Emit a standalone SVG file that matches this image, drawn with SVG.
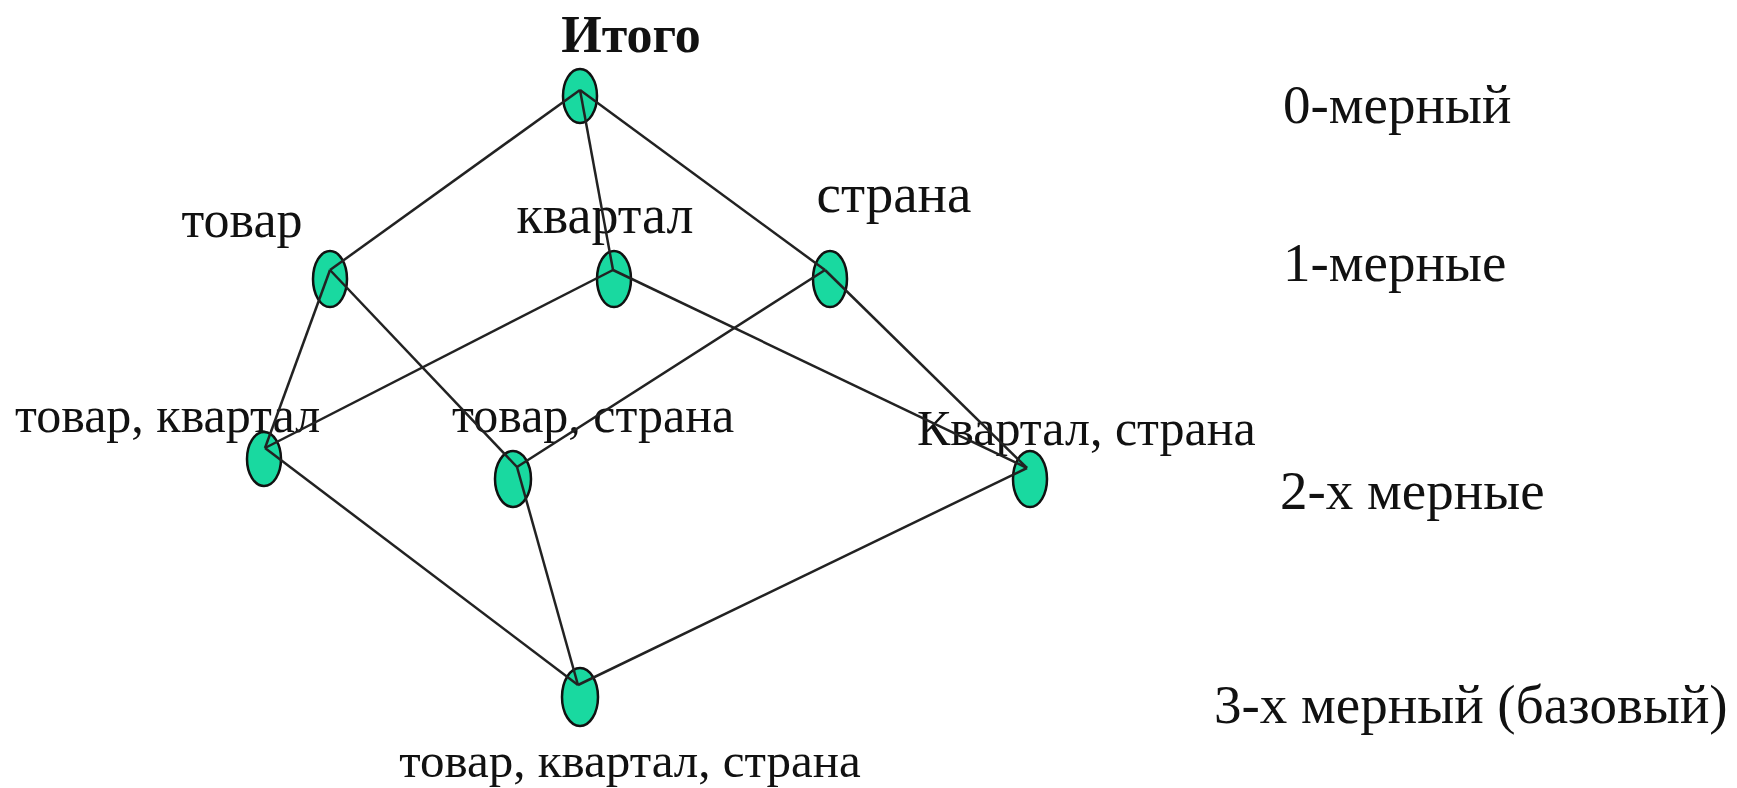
<svg xmlns="http://www.w3.org/2000/svg" width="1737" height="788" viewBox="0 0 1737 788">
<style>
.n{fill:#19D9A0;stroke:#111;stroke-width:2.5}
.e{stroke:#222;stroke-width:2.5;fill:none}
.t{font-family:"Liberation Serif","Times New Roman",serif;font-size:50px;fill:#111}
.r{font-family:"Liberation Serif","Times New Roman",serif;font-size:55px;fill:#111}
.b{font-family:"Liberation Serif","Times New Roman",serif;font-size:52px;font-weight:bold;fill:#111}
</style>
<rect width="1737" height="788" fill="#fff"/>
<g id="node-total"><ellipse class="n" cx="580" cy="96" rx="17" ry="27"/><text class="b" x="631" y="52" text-anchor="middle">Итого</text></g>
<g id="node-tovar"><ellipse class="n" cx="330" cy="279" rx="17" ry="28"/><text class="t" x="242" y="237" text-anchor="middle" style="font-size:52px">товар</text></g>
<g id="node-kvartal"><ellipse class="n" cx="614" cy="279" rx="17" ry="28"/><text class="t" x="605" y="233" text-anchor="middle" style="font-size:54px">квартал</text></g>
<g id="node-strana"><ellipse class="n" cx="830" cy="279" rx="17" ry="28"/><text class="t" x="894" y="212" text-anchor="middle" style="font-size:55px">страна</text></g>
<g id="node-tovar-kvartal"><ellipse class="n" cx="264" cy="459" rx="17" ry="27"/><text class="t" x="15" y="432">товар, квартал</text></g>
<g id="node-tovar-strana"><ellipse class="n" cx="513" cy="479" rx="18" ry="28"/><text class="t" x="452" y="432">товар, страна</text></g>
<g id="node-kvartal-strana"><ellipse class="n" cx="1030" cy="479" rx="17" ry="28"/><text class="t" x="917" y="445">Квартал, страна</text></g>
<g id="node-base"><ellipse class="n" cx="580" cy="697" rx="18" ry="29"/><text class="t" x="630" y="777" text-anchor="middle" style="font-size:49px">товар, квартал, страна</text></g>
<g id="connectors">
<line class="e" x1="580" y1="90" x2="330" y2="270"/>
<line class="e" x1="580" y1="90" x2="613" y2="270"/>
<line class="e" x1="580" y1="90" x2="825" y2="270"/>
<line class="e" x1="330" y1="270" x2="265" y2="448"/>
<line class="e" x1="330" y1="270" x2="517" y2="467"/>
<line class="e" x1="613" y1="270" x2="265" y2="448"/>
<line class="e" x1="613" y1="270" x2="1027" y2="468"/>
<line class="e" x1="825" y1="270" x2="517" y2="467"/>
<line class="e" x1="825" y1="270" x2="1027" y2="468"/>
<line class="e" x1="265" y1="448" x2="578" y2="685"/>
<line class="e" x1="517" y1="467" x2="578" y2="685"/>
<line class="e" x1="1027" y1="468" x2="578" y2="685"/>
</g>
<g id="levels">
<text class="r" x="1283" y="123">0-мерный</text>
<text class="r" x="1283" y="281">1-мерные</text>
<text class="r" x="1280" y="509">2-х мерные</text>
<text class="r" x="1214" y="723">3-х мерный (базовый)</text>
</g>
</svg>
